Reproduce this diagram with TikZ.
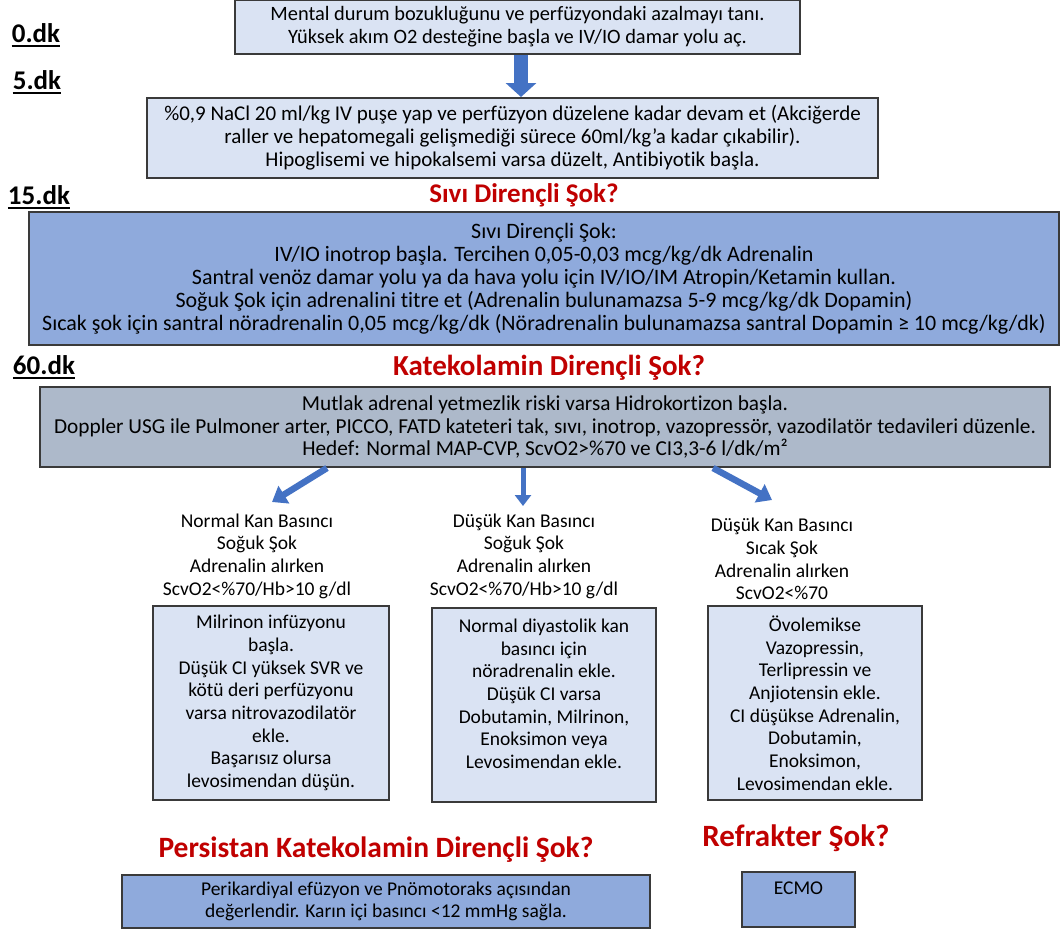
\documentclass[tikz,border=0pt]{standalone}
\usepackage{fontspec}
\setmainfont{Carlito}[Ligatures=NoCommon]
\usetikzlibrary{arrows.meta}
\definecolor{lightbox}{HTML}{DAE3F3}
\definecolor{midblue}{HTML}{8FAADC}
\definecolor{graybox}{HTML}{ADB9CA}
\definecolor{arrowblue}{HTML}{4472C4}
\definecolor{redhead}{HTML}{C00000}
\definecolor{edge}{HTML}{3A3A3A}
\begin{document}
\begin{tikzpicture}[x=1pt,y=-1pt,
  box/.style={draw=edge, line width=1.3pt, align=center, inner sep=0pt,
    font=\fontsize{19.5}{22.7}\selectfont},
  plain/.style={align=center, inner sep=0pt, font=\fontsize{19.5}{22.7}\selectfont},
  head/.style={text=redhead, inner sep=0pt, font=\fontsize{27}{30}\selectfont\bfseries},
  dk/.style={inner sep=0pt, font=\fontsize{27}{30}\selectfont\bfseries},
  ulline/.style={line width=2.2pt},
  bigarrow/.style={draw=arrowblue, line width=14pt, -{Triangle[width=30pt,length=14pt]}},
  smallarrow/.style={draw=arrowblue, line width=6.5pt, -{Triangle[width=20pt,length=14pt]}},
  thinarrow/.style={draw=arrowblue, line width=5pt, -{Triangle[width=16pt,length=11pt]}}
]
\useasboundingbox (0,0) rectangle (1063,929);
\fill[white] (0,0) rectangle (1063,929);

% time labels
\node[dk] (l0) at (36,33) {0.dk};
\node[dk] (l5) at (37,80) {5.dk};
\node[dk] (l15) at (39,195) {15.dk};
\node[dk] (l60) at (44,365) {60.dk};
\foreach \n in {l0,l5,l15,l60}{
  \draw[ulline] ([yshift=-4pt]\n.base west) -- ([yshift=-4pt]\n.base east);
}

% boxes
\node[box, fill=lightbox, minimum width=565pt, minimum height=54pt,
      font=\fontsize{20.4}{22.7}\selectfont] (b1) at (517.5,27)
  {Mental durum bozukluğunu ve perfüzyondaki azalmayı tanı.\\
   Yüksek akım O2 desteğine başla ve IV/IO damar yolu aç.};
\node[box, fill=lightbox, minimum width=731pt, minimum height=80pt,
      font=\fontsize{21}{23}\selectfont] (b2) at (512.5,138)
  {\%0,9 NaCl 20 ml/kg IV puşe yap ve perfüzyon düzelene kadar devam et (Akciğerde\\
   raller ve hepatomegali gelişmediği sürece 60ml/kg’a kadar çıkabilir).\\
   Hipoglisemi ve hipokalsemi varsa düzelt, Antibiyotik başla.};
\node[head] (h1) at (524,195) {Sıvı Dirençli Şok?};
\node[box, fill=midblue, minimum width=1030pt, minimum height=133pt,
      font=\fontsize{22}{23}\selectfont] (b3) at (544,278.5)
  {Sıvı Dirençli Şok:\\
   IV/IO inotrop başla. Tercihen 0,05-0,03 mcg/kg/dk Adrenalin\\
   Santral venöz damar yolu ya da hava yolu için IV/IO/IM Atropin/Ketamin kullan.\\
   Soğuk Şok için adrenalini titre et (Adrenalin bulunamazsa 5-9 mcg/kg/dk Dopamin)\\
   Sıcak şok için santral nöradrenalin 0,05 mcg/kg/dk (Nöradrenalin bulunamazsa santral Dopamin ≥ 10 mcg/kg/dk)};
\node[head, font=\fontsize{29}{32}\selectfont\bfseries] (h2) at (549,368) {Katekolamin Dirençli Şok?};
\node[box, fill=graybox, minimum width=1010pt, minimum height=80pt,
      font=\fontsize{21.3}{22.5}\selectfont] (b4) at (545,427)
  {Mutlak adrenal yetmezlik riski varsa Hidrokortizon başla.\\
   Doppler USG ile Pulmoner arter, PICCO, FATD kateteri tak, sıvı, inotrop, vazopressör, vazodilatör tedavileri düzenle.\\
   Hedef: Normal MAP-CVP, ScvO2>\%70 ve CI3,3-6 l/dk/m²};

% branch conditions
\node[plain] (c1) at (257,556) {Normal Kan Basıncı\\ Soğuk Şok\\ Adrenalin alırken\\ ScvO2<\%70/Hb>10 g/dl};
\node[plain] (c2) at (524,556) {Düşük Kan Basıncı\\ Soğuk Şok\\ Adrenalin alırken\\ ScvO2<\%70/Hb>10 g/dl};
\node[plain] (c3) at (782,559) {Düşük Kan Basıncı\\ Sıcak Şok\\ Adrenalin alırken\\ ScvO2<\%70};

% branch boxes
\node[box, fill=lightbox, minimum width=236pt, minimum height=194pt] (d1) at (271,703)
  {Milrinon infüzyonu\\ başla.\\ Düşük CI yüksek SVR ve\\ kötü deri perfüzyonu\\ varsa nitrovazodilatör\\ ekle.\\ Başarısız olursa\\ levosimendan düşün.};
\node[box, fill=lightbox, minimum width=224pt, minimum height=194pt] (d2) at (544,705)
  {Normal diyastolik kan\\ basıncı için\\ nöradrenalin ekle.\\ Düşük CI varsa\\ Dobutamin, Milrinon,\\ Enoksimon veya\\ Levosimendan ekle.\\ \mbox{}};
\node[box, fill=lightbox, minimum width=214pt, minimum height=194pt] (d3) at (815,703)
  {Övolemikse\\ Vazopressin,\\ Terlipressin ve\\ Anjiotensin ekle.\\ CI düşükse Adrenalin,\\ Dobutamin,\\ Enoksimon,\\ Levosimendan ekle.};

% bottom
\node[head, font=\fontsize{29.5}{32}\selectfont\bfseries] (h3) at (376,850) {Persistan Katekolamin Dirençli Şok?};
\node[head, font=\fontsize{31}{34}\selectfont\bfseries] (h4) at (796,838) {Refrakter Şok?};
\node[box, fill=midblue, minimum width=528pt, minimum height=53pt] (e1) at (386,901.5)
  {Perikardiyal efüzyon ve Pnömotoraks açısından\\ değerlendir. Karın içi basıncı <12 mmHg sağla.};
\node[box, fill=midblue, minimum width=113pt, minimum height=55pt] (e2) at (798.5,899.5)
  {ECMO\\ \mbox{}};

% arrows
\coordinate (a0s) at (521,55);
\coordinate (a0e) at (521,97);
\draw[bigarrow] (a0s) -- (a0e);
\coordinate (a1s) at (327,468);
\coordinate (a1e) at (272,502);
\draw[smallarrow] (a1s) -- (a1e);
\coordinate (a2s) at (523,468);
\coordinate (a2e) at (523,506);
\draw[thinarrow] (a2s) -- (a2e);
\coordinate (a3s) at (713,468);
\coordinate (a3e) at (772,500);
\draw[smallarrow] (a3s) -- (a3e);
\end{tikzpicture}
\end{document}
